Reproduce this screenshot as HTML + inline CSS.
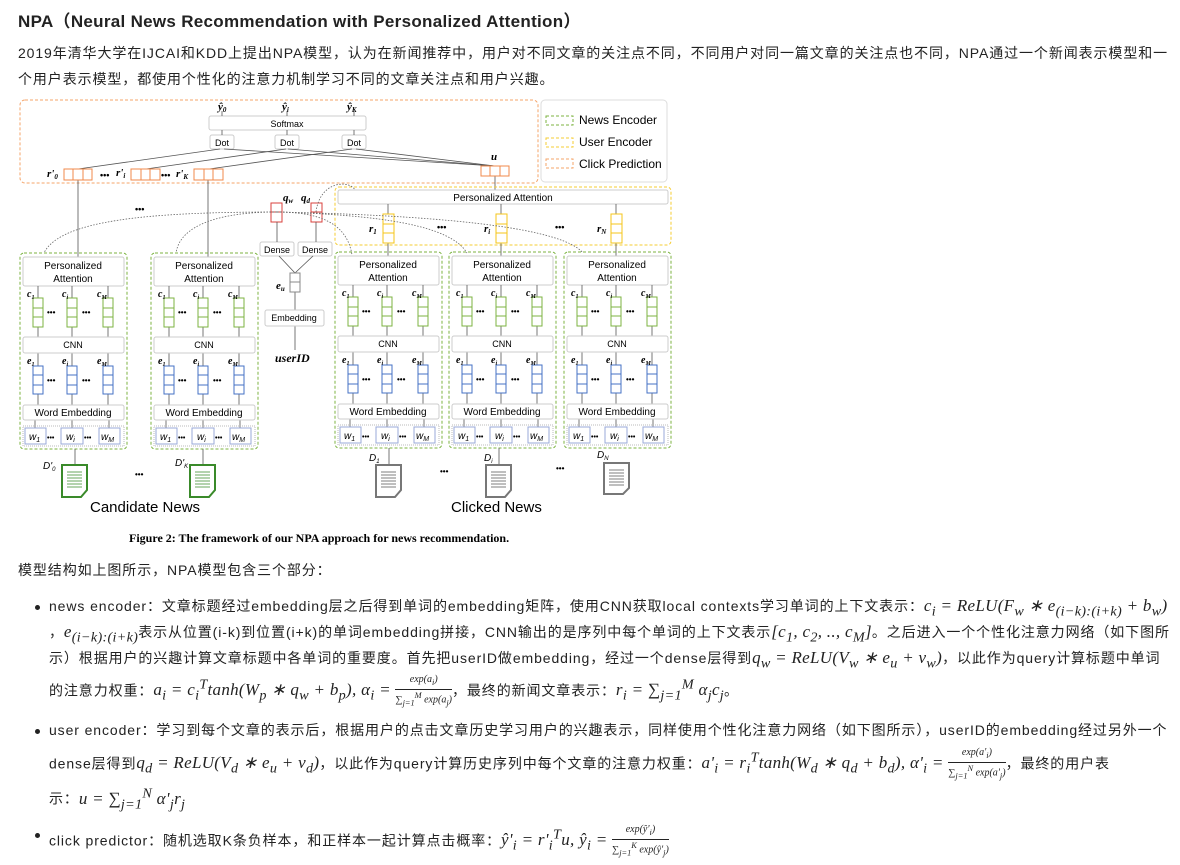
<!DOCTYPE html>
<html><head><meta charset="utf-8"><style>
body{margin:0;width:1180px;height:865px;background:#fff;position:relative;overflow:hidden;font-family:"Liberation Sans","Noto Sans CJK SC",sans-serif;color:#222}
.a{position:absolute;white-space:nowrap;font-size:14px;letter-spacing:0.9px}
.m{font-family:"Liberation Serif",serif;font-style:italic;font-size:17px;letter-spacing:0.3px}
.fr{display:inline-block;vertical-align:middle;text-align:center;font-family:"Liberation Serif",serif;font-style:italic;font-size:10px;line-height:12px;letter-spacing:0}
.fr .n{border-bottom:1px solid #222;padding:0 2px}
.dot{position:absolute;width:5px;height:5px;border-radius:50%;background:#222}
svg text{font-family:"Liberation Sans",sans-serif}
.s{font-family:"Liberation Serif",serif;font-style:italic;font-weight:bold}
</style></head><body>
<div class="a" style="left:18px;top:7px;font-size:17px;font-weight:bold;letter-spacing:0.3px">NPA（Neural News Recommendation with Personalized Attention）</div>
<div class="a" style="left:18px;top:43px">2019年清华大学在IJCAI和KDD上提出NPA模型，认为在新闻推荐中，用户对不同文章的关注点不同，不同用户对同一篇文章的关注点也不同，NPA通过一个新闻表示模型和一</div>
<div class="a" style="left:18px;top:69px">个用户表示模型，都使用个性化的注意力机制学习不同的文章关注点和用户兴趣。</div>

<svg width="1180" height="560" style="position:absolute;left:0;top:0" xmlns="http://www.w3.org/2000/svg">
<rect x="20" y="100" width="518" height="83" rx="5" fill="none" stroke="#f4a46a" stroke-dasharray="3,2"/>
<rect x="541" y="100" width="126" height="82" rx="4" fill="#fff" stroke="#ddd"/>
<rect x="546" y="116" width="27" height="9" fill="none" stroke="#7cb342" stroke-dasharray="3,2"/>
<rect x="546" y="138" width="27" height="9" fill="none" stroke="#f5cc33" stroke-dasharray="3,2"/>
<rect x="546" y="159" width="27" height="9" fill="none" stroke="#f4a46a" stroke-dasharray="3,2"/>
<text x="579" y="124" font-size="12">News Encoder</text>
<text x="579" y="146" font-size="12">User Encoder</text>
<text x="579" y="168" font-size="12">Click Prediction</text>
<rect x="209" y="116" width="157" height="14" rx="2" fill="#fff" stroke="#ccc"/>
<text x="287" y="127" font-size="9" text-anchor="middle">Softmax</text>
<rect x="210" y="135" width="24" height="14" rx="2" fill="#fff" stroke="#ccc"/><text x="222" y="146" font-size="9" text-anchor="middle">Dot</text>
<rect x="275" y="135" width="24" height="14" rx="2" fill="#fff" stroke="#ccc"/><text x="287" y="146" font-size="9" text-anchor="middle">Dot</text>
<rect x="342" y="135" width="24" height="14" rx="2" fill="#fff" stroke="#ccc"/><text x="354" y="146" font-size="9" text-anchor="middle">Dot</text>
<text x="218" y="110" font-size="11" class="s">ŷ<tspan font-size="7" dy="2">0</tspan></text>
<text x="282" y="110" font-size="11" class="s">ŷ<tspan font-size="7" dy="2">i</tspan></text>
<text x="347" y="110" font-size="11" class="s">ŷ<tspan font-size="7" dy="2">K</tspan></text>
<g stroke="#555" stroke-width="0.8">
<line x1="222" y1="116" x2="222" y2="111"/><line x1="287" y1="116" x2="287" y2="111"/><line x1="354" y1="116" x2="354" y2="111"/>
<line x1="222" y1="135" x2="222" y2="130"/><line x1="287" y1="135" x2="287" y2="130"/><line x1="354" y1="135" x2="354" y2="130"/>
<line x1="78" y1="169" x2="220" y2="149"/><line x1="146" y1="169" x2="286" y2="149"/><line x1="209" y1="169" x2="352" y2="149"/>
<line x1="495" y1="166" x2="224" y2="149"/><line x1="495" y1="166" x2="288" y2="149"/><line x1="495" y1="166" x2="356" y2="149"/>
<line x1="78" y1="180" x2="78" y2="257"/><line x1="208" y1="180" x2="208" y2="257"/>
<line x1="495" y1="176" x2="495" y2="190"/>
</g>
<g fill="#fff" stroke="#f08a4b">
<rect x="64" y="169" width="28" height="11"/><line x1="73" y1="169" x2="73" y2="180"/><line x1="83" y1="169" x2="83" y2="180"/>
<rect x="131" y="169" width="29" height="11"/><line x1="141" y1="169" x2="141" y2="180"/><line x1="150" y1="169" x2="150" y2="180"/>
<rect x="194" y="169" width="29" height="11"/><line x1="204" y1="169" x2="204" y2="180"/><line x1="213" y1="169" x2="213" y2="180"/>
<rect x="481" y="166" width="28" height="10"/><line x1="490" y1="166" x2="490" y2="176"/><line x1="500" y1="166" x2="500" y2="176"/>
</g>
<text x="47" y="177" font-size="11" class="s">r'<tspan font-size="7" dy="2">0</tspan></text>
<text x="116" y="176" font-size="11" class="s">r'<tspan font-size="7" dy="2">i</tspan></text>
<text x="176" y="177" font-size="11" class="s">r'<tspan font-size="7" dy="2">K</tspan></text>
<text x="491" y="160" font-size="11" class="s">u</text>
<text x="100" y="178" font-size="9" font-weight="bold">•••</text>
<text x="161" y="178" font-size="9" font-weight="bold">•••</text>
<text x="135" y="212" font-size="9" font-weight="bold">•••</text>
<rect x="335" y="187" width="336" height="58" rx="4" fill="none" stroke="#f5cc33" stroke-dasharray="3,2"/>
<rect x="338" y="190" width="330" height="14" rx="2" fill="#fff" stroke="#ccc"/>
<text x="503" y="201" font-size="10" text-anchor="middle">Personalized Attention</text>
<g stroke="#555" stroke-width="0.8"><line x1="388" y1="204" x2="388" y2="257"/><line x1="501" y1="204" x2="501" y2="257"/><line x1="616" y1="204" x2="616" y2="257"/></g>
<g fill="#fff" stroke="#f5c518">
<rect x="383" y="214" width="11" height="29"/><line x1="383" y1="224" x2="394" y2="224"/><line x1="383" y1="233" x2="394" y2="233"/>
<rect x="496" y="214" width="11" height="29"/><line x1="496" y1="224" x2="507" y2="224"/><line x1="496" y1="233" x2="507" y2="233"/>
<rect x="611" y="214" width="11" height="29"/><line x1="611" y1="224" x2="622" y2="224"/><line x1="611" y1="233" x2="622" y2="233"/>
</g>
<text x="369" y="232" font-size="11" class="s">r<tspan font-size="7" dy="2">1</tspan></text>
<text x="484" y="232" font-size="11" class="s">r<tspan font-size="7" dy="2">i</tspan></text>
<text x="597" y="232" font-size="11" class="s">r<tspan font-size="7" dy="2">N</tspan></text>
<text x="437" y="230" font-size="9" font-weight="bold">•••</text>
<text x="555" y="230" font-size="9" font-weight="bold">•••</text>
<g fill="#fff" stroke="#d9423c">
<rect x="271" y="203" width="11" height="19"/><line x1="271" y1="212" x2="282" y2="212"/>
<rect x="311" y="203" width="11" height="19"/><line x1="311" y1="212" x2="322" y2="212"/>
</g>
<text x="283" y="201" font-size="11" class="s">q<tspan font-size="7" dy="2">w</tspan></text>
<text x="301" y="201" font-size="11" class="s">q<tspan font-size="7" dy="2">d</tspan></text>
<rect x="260" y="242" width="34" height="14" rx="2" fill="#fff" stroke="#ccc"/><text x="277" y="253" font-size="9" text-anchor="middle">Dense</text>
<rect x="298" y="242" width="34" height="14" rx="2" fill="#fff" stroke="#ccc"/><text x="315" y="253" font-size="9" text-anchor="middle">Dense</text>
<g stroke="#555" stroke-width="0.8"><line x1="277" y1="242" x2="277" y2="222"/><line x1="316" y1="242" x2="316" y2="222"/>
<line x1="295" y1="273" x2="279" y2="256"/><line x1="295" y1="273" x2="313" y2="256"/><line x1="295" y1="292" x2="295" y2="310"/><line x1="295" y1="326" x2="295" y2="350"/></g>
<rect x="290" y="273" width="10" height="19" fill="#fff" stroke="#888"/><line x1="290" y1="282" x2="300" y2="282" stroke="#888"/>
<text x="276" y="289" font-size="11" class="s">e<tspan font-size="7" dy="2">u</tspan></text>
<rect x="265" y="310" width="59" height="16" rx="2" fill="#fff" stroke="#ccc"/><text x="294" y="321" font-size="9" text-anchor="middle">Embedding</text>
<text x="275" y="362" font-size="12" class="s">userID</text>
<g fill="none" stroke="#666" stroke-dasharray="1.5,1.5" stroke-width="0.8">
<path d="M277,212 C150,212 60,220 44,253"/>
<path d="M277,212 C220,212 180,225 176,253"/>
<path d="M277,212 C330,212 348,230 352,255"/>
<path d="M277,212 C380,215 450,225 467,253"/>
<path d="M277,212 C420,215 560,225 583,253"/>
<path d="M316,212 C320,180 350,180 355,190"/>
</g>
<g id="enc">
<g transform="translate(20,0)">
<rect x="0" y="253" width="107" height="196" rx="4" fill="none" stroke="#7cb342" stroke-dasharray="3,2"/>
<rect x="3" y="257" width="101" height="29" rx="2" fill="#fff" stroke="#ccc"/>
<text x="53" y="269" font-size="10" text-anchor="middle">Personalized</text><text x="53" y="282" font-size="10" text-anchor="middle">Attention</text>
<g stroke="#555" stroke-width="0.8"><line x1="18" y1="286" x2="18" y2="298"/><line x1="52" y1="286" x2="52" y2="298"/><line x1="88" y1="286" x2="88" y2="298"/><line x1="18" y1="327" x2="18" y2="337"/><line x1="52" y1="327" x2="52" y2="337"/><line x1="88" y1="327" x2="88" y2="337"/><line x1="18" y1="353" x2="18" y2="366"/><line x1="52" y1="353" x2="52" y2="366"/><line x1="88" y1="353" x2="88" y2="366"/><line x1="18" y1="394" x2="18" y2="405"/><line x1="52" y1="394" x2="52" y2="405"/><line x1="88" y1="394" x2="88" y2="405"/><line x1="15" y1="420" x2="15" y2="428"/><line x1="52" y1="420" x2="52" y2="428"/><line x1="89" y1="420" x2="89" y2="428"/></g>
<g fill="#fff" stroke="#7cb342"><rect x="13" y="298" width="10" height="29"/><line x1="13" y1="308" x2="23" y2="308"/><line x1="13" y1="317" x2="23" y2="317"/><rect x="47" y="298" width="10" height="29"/><line x1="47" y1="308" x2="57" y2="308"/><line x1="47" y1="317" x2="57" y2="317"/><rect x="83" y="298" width="10" height="29"/><line x1="83" y1="308" x2="93" y2="308"/><line x1="83" y1="317" x2="93" y2="317"/></g>
<g fill="#fff" stroke="#4472c4"><rect x="13" y="366" width="10" height="28"/><line x1="13" y1="375" x2="23" y2="375"/><line x1="13" y1="385" x2="23" y2="385"/><rect x="47" y="366" width="10" height="28"/><line x1="47" y1="375" x2="57" y2="375"/><line x1="47" y1="385" x2="57" y2="385"/><rect x="83" y="366" width="10" height="28"/><line x1="83" y1="375" x2="93" y2="375"/><line x1="83" y1="385" x2="93" y2="385"/></g>
<text x="7" y="297" font-size="10" class="s">c<tspan font-size="6" dy="2">1</tspan></text><text x="42" y="297" font-size="10" class="s">c<tspan font-size="6" dy="2">i</tspan></text><text x="77" y="297" font-size="10" class="s">c<tspan font-size="6" dy="2">M</tspan></text>
<text x="27" y="315" font-size="8" font-weight="bold">•••</text><text x="62" y="315" font-size="8" font-weight="bold">•••</text>
<rect x="3" y="337" width="101" height="16" rx="2" fill="#fff" stroke="#ccc"/><text x="53" y="348" font-size="9" text-anchor="middle">CNN</text>
<text x="7" y="364" font-size="10" class="s">e<tspan font-size="6" dy="2">1</tspan></text><text x="42" y="364" font-size="10" class="s">e<tspan font-size="6" dy="2">i</tspan></text><text x="77" y="364" font-size="10" class="s">e<tspan font-size="6" dy="2">M</tspan></text>
<text x="27" y="383" font-size="8" font-weight="bold">•••</text><text x="62" y="383" font-size="8" font-weight="bold">•••</text>
<rect x="3" y="405" width="101" height="15" rx="2" fill="#fff" stroke="#ccc"/><text x="53" y="416" font-size="10" text-anchor="middle">Word Embedding</text>
<rect x="3" y="426" width="101" height="20" fill="none" stroke="#bbb" stroke-dasharray="1,1"/>
<g fill="#fff" stroke="#9aaad8"><rect x="5" y="428" width="21" height="16"/><rect x="41" y="428" width="22" height="16"/><rect x="79" y="428" width="21" height="16"/></g>
<text x="9" y="440" font-size="10" font-family="Liberation Serif" font-style="italic">w<tspan font-size="7" dy="2">1</tspan></text><text x="46" y="440" font-size="10" font-family="Liberation Serif" font-style="italic">w<tspan font-size="7" dy="2">i</tspan></text><text x="81" y="440" font-size="10" font-family="Liberation Serif" font-style="italic">w<tspan font-size="7" dy="2">M</tspan></text>
<text x="27" y="440" font-size="7" font-weight="bold">•••</text><text x="64" y="440" font-size="7" font-weight="bold">•••</text>
</g></g>
<use href="#enc" transform="translate(131,0)"/>
<use href="#enc" transform="translate(315,-1)"/>
<use href="#enc" transform="translate(429,-1)"/>
<use href="#enc" transform="translate(544,-1)"/>
<g stroke="#555" stroke-width="0.8"><line x1="75" y1="449" x2="75" y2="465"/><line x1="203" y1="449" x2="203" y2="465"/><line x1="389" y1="448" x2="389" y2="465"/><line x1="499" y1="448" x2="499" y2="465"/></g>
<g fill="#fff" stroke-width="2">
<path d="M62,465 H87 V490 L81,497 H62 Z" stroke="#3a8a2a"/><path d="M190,465 H215 V490 L209,497 H190 Z" stroke="#3a8a2a"/>
<path d="M376,465 H401 V490 L395,497 H376 Z" stroke="#777"/><path d="M486,465 H511 V490 L505,497 H486 Z" stroke="#777"/><path d="M604,463 H629 V488 L623,494 H604 Z" stroke="#777"/>
</g>
<g stroke="#555" stroke-width="0.8">
<path d="M67,472h15M67,475h15M67,478h15M67,481h15M67,484h15M67,487h15" stroke="#3a8a2a"/>
<path d="M195,472h15M195,475h15M195,478h15M195,481h15M195,484h15M195,487h15" stroke="#3a8a2a"/>
<path d="M381,472h15M381,475h15M381,478h15M381,481h15M381,484h15M381,487h15"/>
<path d="M491,472h15M491,475h15M491,478h15M491,481h15M491,484h15M491,487h15"/>
<path d="M609,470h15M609,473h15M609,476h15M609,479h15M609,482h15M609,485h15"/>
</g>
<text x="43" y="469" font-size="10" font-family="Liberation Serif" font-style="italic">D'<tspan font-size="6" dy="2">0</tspan></text>
<text x="175" y="466" font-size="10" font-family="Liberation Serif" font-style="italic">D'<tspan font-size="6" dy="2">K</tspan></text>
<text x="369" y="461" font-size="10" font-family="Liberation Serif" font-style="italic">D<tspan font-size="6" dy="2">1</tspan></text>
<text x="484" y="461" font-size="10" font-family="Liberation Serif" font-style="italic">D<tspan font-size="6" dy="2">i</tspan></text>
<text x="597" y="458" font-size="10" font-family="Liberation Serif" font-style="italic">D<tspan font-size="6" dy="2">N</tspan></text>
<text x="135" y="477" font-size="8" font-weight="bold">•••</text><text x="440" y="474" font-size="8" font-weight="bold">•••</text><text x="556" y="471" font-size="8" font-weight="bold">•••</text>
<text x="90" y="512" font-size="15">Candidate News</text>
<text x="451" y="512" font-size="15">Clicked News</text>
<text x="129" y="542" font-size="12" font-weight="bold" style="font-family:'Liberation Serif',serif">Figure 2: The framework of our NPA approach for news recommendation.</text>
</svg>

<div class="a" style="left:18px;top:560px">模型结构如上图所示，NPA模型包含三个部分：</div>
<div class="dot" style="left:35px;top:605px"></div>
<div class="a" style="left:49px;top:596px">news encoder：文章标题经过embedding层之后得到单词的embedding矩阵，使用CNN获取local contexts学习单词的上下文表示：<span class="m">c<sub>i</sub> = ReLU(F<sub>w</sub> ∗ e<sub>(i−k):(i+k)</sub> + b<sub>w</sub>)</span></div>
<div class="a" style="left:49px;top:622px">，<span class="m">e<sub>(i−k):(i+k)</sub></span>表示从位置(i-k)到位置(i+k)的单词embedding拼接，CNN输出的是序列中每个单词的上下文表示<span class="m">[c<sub>1</sub>, c<sub>2</sub>, .., c<sub>M</sub>]</span>。之后进入一个个性化注意力网络（如下图所</div>
<div class="a" style="left:49px;top:648px">示）根据用户的兴趣计算文章标题中各单词的重要度。首先把userID做embedding，经过一个dense层得到<span class="m">q<sub>w</sub> = ReLU(V<sub>w</sub> ∗ e<sub>u</sub> + v<sub>w</sub>)</span>，以此作为query计算标题中单词</div>
<div class="a" style="left:49px;top:674px">的注意力权重：<span class="m">a<sub>i</sub> = c<sub>i</sub><sup>T</sup>tanh(W<sub>p</sub> ∗ q<sub>w</sub> + b<sub>p</sub>), α<sub>i</sub> = </span><span class="fr"><div class="n">exp(a<sub>i</sub>)</div><div>∑<sub>j=1</sub><sup>M</sup> exp(a<sub>j</sub>)</div></span>，最终的新闻文章表示：<span class="m">r<sub>i</sub> = ∑<sub>j=1</sub><sup>M</sup> α<sub>j</sub>c<sub>j</sub></span>。</div>
<div class="dot" style="left:35px;top:729px"></div>
<div class="a" style="left:49px;top:720px">user encoder：学习到每个文章的表示后，根据用户的点击文章历史学习用户的兴趣表示，同样使用个性化注意力网络（如下图所示），userID的embedding经过另外一个</div>
<div class="a" style="left:49px;top:747px">dense层得到<span class="m">q<sub>d</sub> = ReLU(V<sub>d</sub> ∗ e<sub>u</sub> + v<sub>d</sub>)</span>，以此作为query计算历史序列中每个文章的注意力权重：<span class="m">a'<sub>i</sub> = r<sub>i</sub><sup>T</sup>tanh(W<sub>d</sub> ∗ q<sub>d</sub> + b<sub>d</sub>), α'<sub>i</sub> = </span><span class="fr"><div class="n">exp(a'<sub>i</sub>)</div><div>∑<sub>j=1</sub><sup>N</sup> exp(a'<sub>j</sub>)</div></span>，最终的用户表</div>
<div class="a" style="left:49px;top:785px">示：<span class="m">u = ∑<sub>j=1</sub><sup>N</sup> α'<sub>j</sub>r<sub>j</sub></span></div>
<div class="dot" style="left:35px;top:833px"></div>
<div class="a" style="left:49px;top:824px">click predictor：随机选取K条负样本，和正样本一起计算点击概率：<span class="m">ŷ'<sub>i</sub> = r'<sub>i</sub><sup>T</sup>u, ŷ<sub>i</sub> = </span><span class="fr"><div class="n">exp(ŷ'<sub>i</sub>)</div><div>∑<sub>j=1</sub><sup>K</sup> exp(ŷ'<sub>j</sub>)</div></span></div>
</body></html>
